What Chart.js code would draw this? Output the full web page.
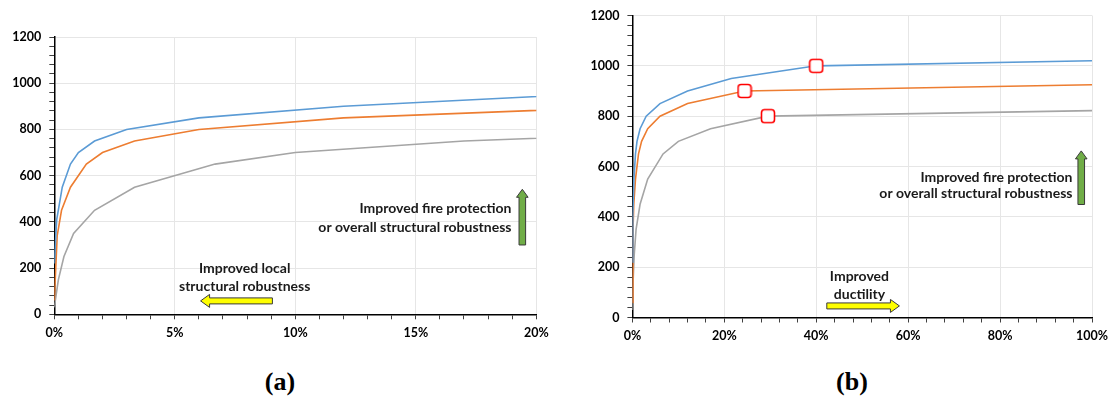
<!DOCTYPE html>
<html><head><meta charset="utf-8">
<script src="https://cdn.jsdelivr.net/npm/chart.js@4/dist/chart.umd.min.js"></script>
<style>
html,body{margin:0;padding:0;background:#fff;width:1114px;height:396px;overflow:hidden;}
.box{position:absolute;top:0;height:350px;}
#boxA{left:0;width:560px;}
#boxB{left:560px;width:554px;}
.cap{position:absolute;top:382px;font-family:"Liberation Serif","Times New Roman",serif;font-weight:bold;font-size:26px;line-height:1;transform:translate(-50%,-50%);color:#000;}
</style></head><body>
<div class="box" id="boxA"><canvas id="cA"></canvas></div>
<div class="box" id="boxB"><canvas id="cB"></canvas></div>
<div class="cap" style="left:280px">(a)</div>
<div class="cap" style="left:852px">(b)</div>
<script>
// ---- data (strain in %, stress) ----
const blueX   = [0, 0.1, 0.33, 0.67, 1.0, 1.67, 3.0, 6.0, 12.0, 21.5, 40.0, 100];
const blueY   = [220, 410, 550, 650, 700, 750, 800, 850, 900, 950, 1000, 1020];
const orangeX = [0, 0.12, 0.3, 0.67, 1.33, 2.0, 3.33, 6.0, 12.0, 24.4, 100];
const orangeY = [60, 340, 450, 550, 650, 700, 750, 800, 850, 900, 925];
const grayX   = [0, 0.17, 0.4, 0.8, 1.67, 3.33, 6.67, 10.0, 17.0, 29.5, 100];
const grayY   = [30, 150, 250, 350, 450, 550, 650, 700, 750, 800, 822];
const markerX = [40, 24.4, 29.5];
const markerY = [1000, 900, 800];
const yTicks  = [0, 200, 400, 600, 800, 1000, 1200];
const xTicksA = [0, 5, 10, 15, 20];
const xTicksB = [0, 20, 40, 60, 80, 100];

const pts = (xs, ys) => xs.map((x, i) => ({x, y: ys[i]}));
const FONT = 'Lato, "Open Sans", sans-serif';
const GRID = '#e6e6e6';

// rounded-square marker image
const mk = document.createElement('canvas');
mk.width = 16; mk.height = 16;
(() => {
  const c = mk.getContext('2d');
  c.fillStyle = '#fff'; c.strokeStyle = '#ff0000'; c.lineWidth = 1.6;
  c.beginPath(); c.roundRect(1.5, 1.5, 13, 13, 3); c.fill(); c.stroke();
})();

function lineSets(withMarkers) {
  const ds = [
    {data: pts(blueX, blueY), borderColor: '#5b9bd5'},
    {data: pts(orangeX, orangeY), borderColor: '#ed7d31'},
    {data: pts(grayX, grayY), borderColor: '#a5a5a5'}
  ].map(d => Object.assign(d, {borderWidth: 1.6, pointRadius: 0, tension: 0, fill: false, order: 1}));
  if (withMarkers) ds.unshift({data: pts(markerX, markerY), showLine: false, pointStyle: mk,
    pointRadius: 8, order: -1, borderColor: '#ff0000', backgroundColor: '#fff'});
  return ds;
}

function drawArrow(ctx, x1, y1, x2, y2, shaftHalf, headHalf, headLen, fill) {
  const dx = x2 - x1, dy = y2 - y1, L = Math.hypot(dx, dy);
  const ux = dx / L, uy = dy / L, nx = -uy, ny = ux;
  const bx = x2 - ux * headLen, by = y2 - uy * headLen;
  ctx.save();
  ctx.beginPath();
  ctx.moveTo(x1 + nx * shaftHalf, y1 + ny * shaftHalf);
  ctx.lineTo(bx + nx * shaftHalf, by + ny * shaftHalf);
  ctx.lineTo(bx + nx * headHalf, by + ny * headHalf);
  ctx.lineTo(x2, y2);
  ctx.lineTo(bx - nx * headHalf, by - ny * headHalf);
  ctx.lineTo(bx - nx * shaftHalf, by - ny * shaftHalf);
  ctx.lineTo(x1 - nx * shaftHalf, y1 - ny * shaftHalf);
  ctx.closePath();
  ctx.fillStyle = fill; ctx.fill();
  ctx.strokeStyle = '#3a3a3a'; ctx.lineWidth = 1; ctx.stroke();
  ctx.restore();
}

const annotPlugin = {
  id: 'annot',
  afterDatasetsDraw(chart, args, opts) {
    const {ctx, scales: {x, y}} = chart;
    ctx.save();
    ctx.font = 'bold 14px ' + FONT;
    ctx.fillStyle = '#1a1a1a';
    ctx.textBaseline = 'middle';
    for (const t of opts.texts) {
      ctx.textAlign = t.align;
      ctx.fillText(t.text, x.getPixelForValue(t.x), y.getPixelForValue(t.y));
    }
    for (const a of opts.arrows) {
      drawArrow(ctx, x.getPixelForValue(a.x1), y.getPixelForValue(a.y1),
        x.getPixelForValue(a.x2), y.getPixelForValue(a.y2), a.sh, a.hh, a.hl, a.color);
    }
    ctx.restore();
  }
};

function makeChart(id, xMax, xStep, xMajor, yW, xH, pad, annot, withMarkers) {
  return new Chart(document.getElementById(id), {
    type: 'line',
    data: {datasets: lineSets(withMarkers)},
    plugins: [annotPlugin],
    options: {
      responsive: true, maintainAspectRatio: false, animation: false,
      layout: {padding: pad},
      plugins: {legend: {display: false}, tooltip: {enabled: false}, annot: annot},
      scales: {
        x: {
          type: 'linear', min: 0, max: xMax,
          afterFit: s => { s.height = xH; },
          border: {display: true, color: '#000', width: 1.5},
          grid: {
            color: c => (c.tick && Math.abs(c.tick.value % xMajor) < 1e-6) ? GRID : 'rgba(0,0,0,0)',
            lineWidth: 1, drawTicks: true, tickLength: 5, tickColor: '#404040', tickWidth: 1
          },
          ticks: {
            stepSize: xStep, autoSkip: false, maxRotation: 0, padding: 6,
            color: '#000', font: {family: FONT, size: 12.5, weight: 'bold'},
            callback: v => ((xMax === 20 ? xTicksA : xTicksB).includes(Math.round(v * 1000) / 1000) ? Math.round(v) + '%' : '')
          }
        },
        y: {
          min: 0, max: 1200,
          afterFit: s => { s.width = yW; },
          border: {display: true, color: '#000', width: 1.5},
          grid: {
            color: c => (c.tick && c.tick.value % 200 === 0) ? GRID : 'rgba(0,0,0,0)',
            lineWidth: 1, drawTicks: true, tickLength: 5, tickColor: '#404040', tickWidth: 1
          },
          ticks: {
            stepSize: 40, autoSkip: false, padding: 8,
            color: '#000', font: {family: FONT, size: 12.5, weight: 'bold'},
            callback: v => (yTicks.includes(v) ? String(v) : '')
          }
        }
      }
    }
  });
}

makeChart('cA', 20, 1, 5, 54.3, 35.7, {top: 37, right: 23.7, left: 0, bottom: 0}, {
  texts: [
    {x: 7.9, y: 200, text: 'Improved local', align: 'center'},
    {x: 7.9, y: 120, text: 'structural robustness', align: 'center'},
    {x: 18.97, y: 459, text: 'Improved fire protection', align: 'right'},
    {x: 18.97, y: 377, text: 'or overall structural robustness', align: 'right'}
  ],
  arrows: [
    {x1: 9.05, y1: 58, x2: 6.07, y2: 58, sh: 3, hh: 6.5, hl: 9, color: '#ffff00'},
    {x1: 19.42, y1: 300, x2: 19.42, y2: 541, sh: 3.3, hh: 5.8, hl: 8, color: '#70ad47'}
  ]
}, false);

makeChart('cB', 100, 4, 20, 72.4, 32.5, {top: 15, right: 20.4, left: 0, bottom: 0}, {
  texts: [
    {x: 49.4, y: 162, text: 'Improved', align: 'center'},
    {x: 49.4, y: 93, text: 'ductility', align: 'center'},
    {x: 95.75, y: 558, text: 'Improved fire protection', align: 'right'},
    {x: 95.75, y: 493, text: 'or overall structural robustness', align: 'right'}
  ],
  arrows: [
    {x1: 42.3, y1: 46, x2: 58.1, y2: 46, sh: 3, hh: 6.5, hl: 9, color: '#ffff00'},
    {x1: 97.66, y1: 449, x2: 97.66, y2: 662, sh: 3.3, hh: 5.8, hl: 8, color: '#70ad47'}
  ]
}, true);
</script>
</body></html>
